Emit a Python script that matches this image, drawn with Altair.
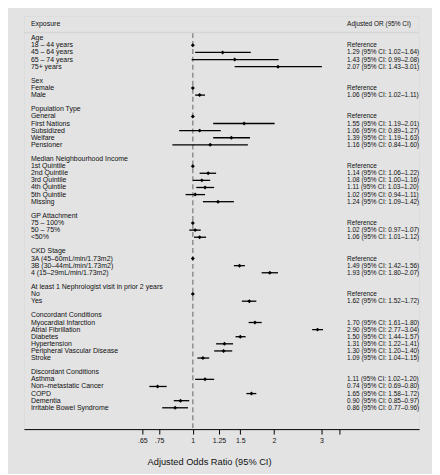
import altair as alt
import pandas as pd

group_titles = [
    "Age", "Sex", "Population Type", "Median Neighbourhood Income",
    "GP Attachment", "CKD Stage", "At least 1 Nephrologist visit in prior 2 years",
    "Concordant Conditions", "Discordant Conditions",
]
group_items = [
    ["18 – 44 years", "45 – 64 years", "65 – 74 years", "75+ years"],
    ["Female", "Male"],
    ["General", "First Nations", "Subsidized", "Welfare", "Pensioner"],
    ["1st Quintile", "2nd Quintile", "3rd Quintile", "4th Quintile", "5th Quintile", "Missing"],
    ["75 – 100%", "50 – 75%", "<50%"],
    ["3A (45–60mL/min/1.73m2)", "3B (30–44mL/min/1.73m2)", "4 (15–29mL/min/1.73m2)"],
    ["No", "Yes"],
    ["Myocardial Infarction", "Atrial Fibrillation", "Diabetes", "Hypertension",
     "Peripheral Vascular Disease", "Stroke"],
    ["Asthma", "Non–metastatic Cancer", "COPD", "Dementia", "Irritable Bowel Syndrome"],
]
# None in ci_low marks a reference category (OR = 1)
group_or = [
    [1.00, 1.29, 1.43, 2.07],
    [1.00, 1.06],
    [1.00, 1.55, 1.06, 1.39, 1.16],
    [1.00, 1.14, 1.08, 1.11, 1.02, 1.24],
    [1.00, 1.02, 1.06],
    [1.00, 1.49, 1.93],
    [1.00, 1.62],
    [1.70, 2.90, 1.50, 1.31, 1.30, 1.09],
    [1.11, 0.74, 1.65, 0.90, 0.86],
]
group_lo = [
    [None, 1.02, 0.99, 1.43],
    [None, 1.02],
    [None, 1.19, 0.89, 1.19, 0.84],
    [None, 1.06, 1.00, 1.03, 0.94, 1.09],
    [None, 0.97, 1.01],
    [None, 1.42, 1.80],
    [None, 1.52],
    [1.61, 2.77, 1.44, 1.22, 1.20, 1.04],
    [1.02, 0.69, 1.58, 0.85, 0.77],
]
group_hi = [
    [None, 1.64, 2.08, 3.01],
    [None, 1.11],
    [None, 2.01, 1.27, 1.63, 1.60],
    [None, 1.22, 1.16, 1.20, 1.11, 1.42],
    [None, 1.07, 1.12],
    [None, 1.56, 2.07],
    [None, 1.72],
    [1.80, 3.04, 1.57, 1.41, 1.40, 1.15],
    [1.20, 0.80, 1.72, 0.97, 0.96],
]
tick_values = [0.65, 0.75, 1, 1.25, 1.5, 2, 3, 3.5]

rows = []
r = 0
for gi, title in enumerate(group_titles):
    rows.append(dict(row=r, label=title, OR=None, lo=None, hi=None, est=""))
    r += 1
    for item, o, lo, hi in zip(group_items[gi], group_or[gi], group_lo[gi], group_hi[gi]):
        if lo is None:
            est = "Reference"
        else:
            est = f"{o:.2f} (95% CI: {lo:.2f}–{hi:.2f})"
        rows.append(dict(row=r, label=item, OR=o, lo=lo, hi=hi, est=est))
        r += 1
    r += 1
df = pd.DataFrame(rows)
pts = df.dropna(subset=["OR"])
cis = df.dropna(subset=["lo"])
hdr = pd.DataFrame({"row": [-2], "left": ["Exposure"], "right": ["Adjusted OR (95% CI)"]})

W, H = 397, 415
xscale = alt.Scale(type="log", domain=[0.2365, 6.90], nice=False, zero=False)
yscale = alt.Scale(domain=[-3.12, 55.0], reverse=True, nice=False, zero=False)

label_expr = ("datum.value == 0.65 ? '.65' : datum.value == 0.75 ? '.75' : "
              "datum.value == 3.5 ? '' : datum.label")
xaxis = alt.Axis(values=tick_values, labelExpr=label_expr, title="Adjusted Odds Ratio (95% CI)",
                 grid=False, tickSize=5, labelFontSize=7, labelPadding=2, titleFontSize=9.3,
                 titleFontWeight="normal", titleX=186, titleY=33, titleBaseline="middle",
                 titleAnchor="start", titleAlign="center",
                 domainColor="black", tickColor="black", labelColor="#111", titleColor="#111",
                 labelFlush=False, labelOverlap=False)

refline = alt.Chart(pd.DataFrame({"x": [1]})).mark_rule(
    color="#8a8a8a", strokeWidth=1.4, strokeDash=[5, 3]
).encode(x=alt.X("x:Q", scale=xscale, axis=xaxis), y=alt.value(17), y2=alt.value(H))

sep = alt.Chart(pd.DataFrame({"a": [0]})).mark_rule(color="#d6d6d6", strokeWidth=1.5).encode(
    x=alt.value(0), x2=alt.value(W), y=alt.value(16.5))

ci = alt.Chart(cis).mark_rule(color="black", strokeWidth=1.3).encode(
    x=alt.X("lo:Q", scale=xscale), x2="hi:Q", y=alt.Y("row:Q", scale=yscale, axis=None))

pt = alt.Chart(pts).mark_point(shape="diamond", filled=True, size=16, color="black", opacity=1).encode(
    x=alt.X("OR:Q", scale=xscale), y=alt.Y("row:Q", scale=yscale, axis=None))

ltxt = alt.Chart(df).mark_text(align="left", baseline="middle", fontSize=7, color="#111").encode(
    x=alt.value(7), y=alt.Y("row:Q", scale=yscale, axis=None), text="label:N")

rtxt = alt.Chart(df).mark_text(align="left", baseline="middle", fontSize=6.5, color="#111").encode(
    x=alt.value(324.7), y=alt.Y("row:Q", scale=yscale, axis=None), text="est:N")

hl = alt.Chart(hdr).mark_text(align="left", baseline="middle", fontSize=7, color="#111").encode(
    x=alt.value(7), y=alt.Y("row:Q", scale=yscale, axis=None), text="left:N")
hr = alt.Chart(hdr).mark_text(align="left", baseline="middle", fontSize=6.5, color="#111").encode(
    x=alt.value(324.7), y=alt.Y("row:Q", scale=yscale, axis=None), text="right:N")

chart = alt.layer(refline, sep, ci, pt, ltxt, rtxt, hl, hr).properties(
    width=W, height=H, background="#e3e3e3",
    padding={"left": 15, "top": 7, "right": 12, "bottom": 5},
).configure_view(fill="white", strokeWidth=0).configure(font="Liberation Sans")

chart.save("out.html", embed_options={"renderer": "svg", "actions": False})
